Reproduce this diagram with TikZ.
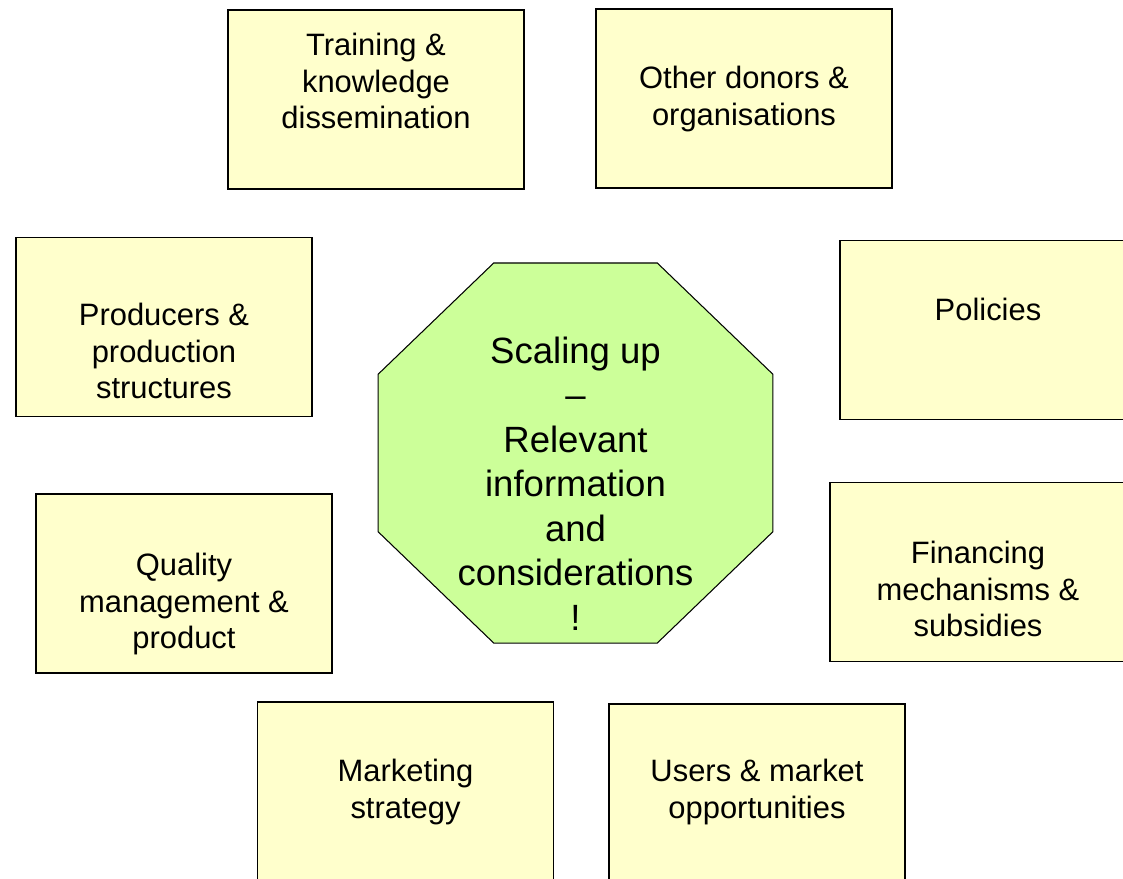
\documentclass[tikz,border=0pt]{standalone}
\usepackage{fontspec}
\setmainfont{Liberation Sans}
\usepackage{tikz}
\usetikzlibrary{shapes.geometric}
\definecolor{boxyellow}{HTML}{FFFFCC}
\definecolor{octgreen}{HTML}{CCFF99}
\newcommand{\boxtxtfont}{\fontsize{17.6}{20.8}\selectfont}
\newcommand{\octtxtfont}{\fontsize{20.8}{25.3}\selectfont}

\begin{document}
\begin{tikzpicture}[x=0.02cm,y=-0.02cm,
	infobox/.style={draw=black,fill=boxyellow,line width=1.1pt,rectangle,
		minimum width=5.92cm,minimum height=3.58cm,inner sep=0pt},
	infotxt/.style={align=center,font=\boxtxtfont,inner sep=0pt},
	octbox/.style={draw=black,fill=octgreen,line width=0.6pt,
		regular polygon,regular polygon sides=8,minimum size=8.44cm,inner sep=0pt,
		transform shape,xscale=1.013,yscale=0.975}]
	\useasboundingbox (0,0) rectangle (1123,879);
	%\draw[step=50,gray,very thin] (0,0) grid (1123,879);
	% the outer boxes
	\node[infobox] (train) at (376,99.5) {};
	\node[infobox] (donors) at (744,98.5) {};
	\node[infobox] (prod) at (164,327) {};
	\node[infobox] (pol) at (988,330) {};
	\node[infobox] (qual) at (184,583.5) {};
	\node[infobox] (fin) at (978,572) {};
	\node[infobox] (mkt) at (405.5,791.5) {};
	\node[infobox] (users) at (757,793.5) {};
	\node[infotxt] (traint) at (376,81) {Training \&\\knowledge\\dissemination};
	\node[infotxt] (donorst) at (744,99) {Other donors \&\\organisations};
	\node[infotxt] (prodt) at (164,351) {Producers \&\\production\\structures};
	\node[infotxt] (polt) at (988,309) {Policies};
	\node[infotxt] (qualt) at (184,604) {Quality\\management \&\\product};
	\node[infotxt] (fint) at (978,589) {Financing\\mechanisms \&\\subsidies};
	\node[infotxt] (mktt) at (405.5,792) {Marketing\\strategy};
	\node[infotxt] (userst) at (757,792) {Users \& market\\opportunities};
	% the centre
	\node[octbox] (scale) at (575.5,453) {};
	\node[align=center,font=\octtxtfont,inner sep=0pt] (scalet) at (575.5,483.5)
		{Scaling up\\--\\Relevant\\information\\and\\considerations\\!};
\end{tikzpicture}
\end{document}
